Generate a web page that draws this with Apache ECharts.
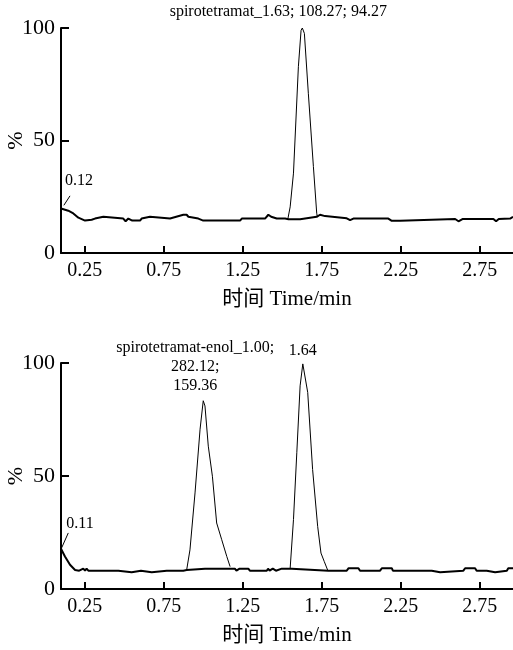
<!DOCTYPE html>
<html><head><meta charset="utf-8">
<script src="https://cdn.jsdelivr.net/npm/echarts@6/dist/echarts.min.js"></script>
<style>html,body{margin:0;padding:0;background:#fff}#c{width:513px;height:650px}</style>
</head><body><div id="c"></div>
<script>
// ---- data (time in min, intensity in %) ----
const xTicks = [0.25, 0.75, 1.25, 1.75, 2.25, 2.75];
const yTicks = [0, 50, 100];

// top chromatogram: spirotetramat
const topBaseT = [0.1,0.146,0.178,0.21,0.252,0.294,0.315,0.368,0.378,0.494,0.509,0.526,0.551,0.6,0.61,0.663,0.674,0.79,0.8,0.874,0.895,0.906,0.969,1.0,1.233,1.244,1.391,1.412,1.43,1.465,1.518,1.539,1.613,1.623,1.718,1.739,1.771,1.782,1.908,1.929,1.95,2.087,2.098,2.12,2.171,2.193,2.246,2.256,2.594,2.615,2.64,2.836,2.853,2.87,2.942,2.96];
const topBaseV = [19.8,18.8,17.6,15.7,14.4,14.8,15.3,16.1,15.3,15.3,14.1,15.3,14.4,14.4,15.3,16.1,15.3,15.3,16.1,17.0,17.0,16.1,15.3,14.4,14.4,15.3,15.3,17.0,16.1,15.3,15.3,15.0,15.0,15.7,16.1,17.0,16.4,15.7,15.4,14.6,15.3,15.3,16.1,15.3,15.3,14.3,14.3,15.1,15.1,14.1,15.1,15.1,14.1,15.1,15.3,16.1];
const topPeakT = [1.535,1.55,1.571,1.602,1.619,1.627,1.64,1.665,1.697,1.718,1.722];
const topPeakV = [15.0,20.5,35.5,82.8,99.0,100,97.6,71.0,38.4,17.7,16.1];

// bottom chromatogram: spirotetramat-enol + spirotetramat
const botBaseT = [0.1,0.125,0.157,0.189,0.215,0.241,0.252,0.262,0.273,0.463,0.473,0.547,0.558,0.606,0.615,0.674,0.684,0.769,0.78,0.8,0.874,0.895,1.011,1.17,1.2,1.21,1.23,1.285,1.295,1.402,1.41,1.42,1.44,1.46,1.497,1.539,1.56,1.792,1.908,1.92,1.982,1.992,2.119,2.13,2.193,2.2,2.446,2.457,2.499,2.51,2.646,2.657,2.72,2.73,2.794,2.804,2.847,2.857,2.921,2.93,2.96];
const botBaseV = [17.8,14.4,10.7,8.4,8.1,9.0,8.1,9.0,8.1,8.1,7.4,7.4,8.1,8.1,7.4,7.4,8.1,8.1,7.4,8.1,8.1,8.4,9.0,9.0,9.0,8.1,9.0,9.0,8.1,8.1,9.0,8.1,9.0,8.1,9.0,9.0,9.0,8.1,8.1,9.2,9.2,8.1,8.1,9.2,9.2,8.1,8.1,7.4,7.4,8.1,8.1,9.2,9.2,8.1,8.1,7.4,7.4,8.1,8.1,9.2,9.2];
const botPeak1T = [0.895,0.916,0.948,0.98,1.0,1.011,1.032,1.058,1.085,1.117,1.149,1.17];
const botPeak1V = [8.4,17.3,42.5,70.7,83.3,81.0,63.2,49.9,29.2,21.8,14.4,9.9];
const botPeak2T = [1.55,1.571,1.592,1.613,1.63,1.64,1.661,1.692,1.724,1.745,1.766,1.787];
const botPeak2V = [9.2,30.7,60.3,89.9,99.6,98.8,87.0,52.9,27.7,15.9,12.1,8.4];

const topTitle = 'spirotetramat_1.63; 108.27; 94.27';
const topStart = '0.12';
const botTitle = 'spirotetramat-enol_1.00;\n282.12;\n159.36';
const botPeak2Label = '1.64';
const botStart = '0.11';
const xName = '时间 Time/min';
const yName = '%';

// ---- build ----
const zip = (t, v) => t.map((x, i) => [x, v[i]]);
const FONT = '"Liberation Serif", "Times New Roman", "Noto Sans CJK SC", serif';

function xAxisCfg(gi) {
  return {
    type: 'value', gridIndex: gi, min: 0.1, max: 2.96,
    name: xName, nameLocation: 'middle', nameGap: 36, nameMoveOverlap: false,
    nameTextStyle: {fontFamily: FONT, fontSize: 21, color: '#000'},
    axisLine: {show: true, onZero: false, lineStyle: {color: '#000', width: 2}},
    axisTick: {show: true, inside: true, length: 7, lineStyle: {color: '#000', width: 2}, customValues: xTicks},
    axisLabel: {customValues: xTicks, margin: 8, fontFamily: FONT, fontSize: 20, color: '#000',
      formatter: v => v.toFixed(2)},
    splitLine: {show: false}
  };
}
function yAxisCfg(gi) {
  return {
    type: 'value', gridIndex: gi, min: 0, max: 100, interval: 50,
    name: yName, nameLocation: 'middle', nameGap: 34, nameRotate: 90, nameMoveOverlap: false,
    nameTextStyle: {fontFamily: FONT, fontSize: 22, color: '#000'},
    axisLine: {show: true, lineStyle: {color: '#000', width: 2}},
    axisTick: {show: true, inside: true, length: 8, lineStyle: {color: '#000', width: 2}},
    axisLabel: {margin: 6, fontFamily: FONT, fontSize: 22, color: '#000'},
    splitLine: {show: false}
  };
}
const lbl = (text, offset, extra) => Object.assign({
  show: true, position: 'inside', offset: offset, formatter: text,
  fontFamily: FONT, fontSize: 16, color: '#000', align: 'center', verticalAlign: 'middle'
}, extra || {});
function mp(coord, text, offset, extra) {
  return {coord: coord, symbol: 'circle', symbolSize: 1, itemStyle: {color: 'rgba(0,0,0,0)'}, label: lbl(text, offset, extra)};
}
function leader(a, b) {
  return {symbol: 'none', silent: true, label: {show: false}, lineStyle: {color: '#000', width: 1, type: 'solid'},
    data: [[{coord: a}, {coord: b}]]};
}
const lineBase = {type: 'line', symbol: 'none', silent: true, animation: false};

const option = {
  backgroundColor: '#fff',
  animation: false,
  grid: [
    {left: 61, top: 28, width: 452, height: 225, containLabel: false, outerBoundsMode: 'none'},
    {left: 61, top: 363, width: 452, height: 226, containLabel: false, outerBoundsMode: 'none'}
  ],
  xAxis: [xAxisCfg(0), xAxisCfg(1)],
  yAxis: [yAxisCfg(0), yAxisCfg(1)],
  series: [
    Object.assign({}, lineBase, {name: 'top baseline', xAxisIndex: 0, yAxisIndex: 0,
      data: zip(topBaseT, topBaseV), lineStyle: {color: '#000', width: 2},
      markLine: leader([topBaseT[0] + 0.018, 21.2], [topBaseT[0] + 0.057, 25.4]),
      markPoint: {silent: true, data: [mp([topBaseT[0], topBaseV[0]], topStart, [18, -28])]}
    }),
    Object.assign({}, lineBase, {name: 'top peak', xAxisIndex: 0, yAxisIndex: 0,
      data: zip(topPeakT, topPeakV), lineStyle: {color: '#000', width: 1},
      markPoint: {silent: true, data: [mp([topPeakT[5], topPeakV[5]], topTitle, [-24, -16])]}
    }),
    Object.assign({}, lineBase, {name: 'bottom baseline', xAxisIndex: 1, yAxisIndex: 1,
      data: zip(botBaseT, botBaseV), lineStyle: {color: '#000', width: 2},
      markLine: leader([botBaseT[0] + 0.004, 18.2], [botBaseT[0] + 0.046, 24.8]),
      markPoint: {silent: true, data: [mp([botBaseT[0], botBaseV[0]], botStart, [19, -25])]}
    }),
    Object.assign({}, lineBase, {name: 'bottom peak 1', xAxisIndex: 1, yAxisIndex: 1,
      data: zip(botPeak1T, botPeak1V), lineStyle: {color: '#000', width: 1},
      markPoint: {silent: true, data: [mp([botPeak1T[4], botPeak1V[4]], botTitle, [-8, -34], {lineHeight: 19})]}
    }),
    Object.assign({}, lineBase, {name: 'bottom peak 2', xAxisIndex: 1, yAxisIndex: 1,
      data: zip(botPeak2T, botPeak2V), lineStyle: {color: '#000', width: 1},
      markPoint: {silent: true, data: [mp([botPeak2T[4], botPeak2V[4]], botPeak2Label, [0, -13])]}
    })
  ]
};
const chart = echarts.init(document.getElementById('c'), null, {renderer: 'canvas'});
chart.setOption(option);
</script>
</body></html>
